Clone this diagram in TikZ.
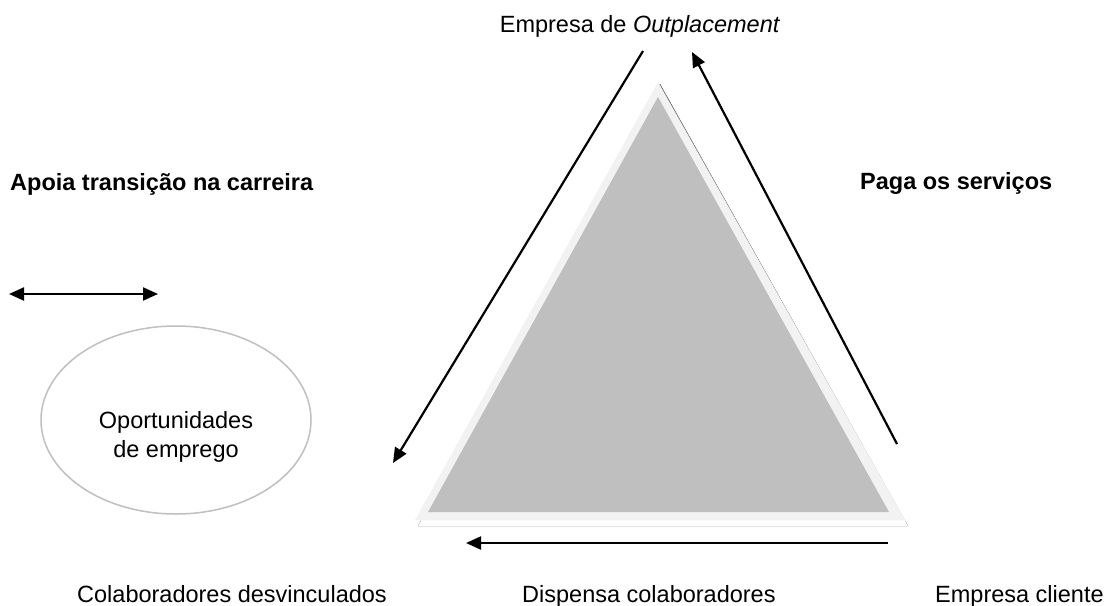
\documentclass[tikz,border=0pt]{standalone}
\usepackage{fontspec}
\setmainfont{Liberation Sans}
\usetikzlibrary{arrows.meta,shapes.geometric}
\definecolor{rim}{HTML}{F2F2F2}
\definecolor{face}{HTML}{BFBFBF}
\definecolor{shade}{HTML}{8496B0}

\begin{document}
\begin{tikzpicture}[x=1pt, y=-1pt, every node/.style = {inner sep=0pt, font=\fontsize{23.5}{29}\selectfont}, flow/.style = {draw, line width=2.2pt, -{Triangle[length=15pt,width=13pt]}}, boldtext/.style = {font=\fontsize{23.5}{29}\selectfont\bfseries}]
            \useasboundingbox (0,0) rectangle (1107,605);
            % triangle
            \fill[shade] (660,84) -- (908,526) -- (418,526) -- cycle;
            \fill[rim] (658,82) -- (905,520) -- (415,520) -- cycle;
            \fill[face] (658,97) -- (889,512) -- (428,512) -- cycle;
            % texts
            \node[anchor=base] (top) at (640,32) {Empresa de \textit{Outplacement}};
            \node[boldtext, anchor=base west] (apoia) at (10,190) {Apoia transição na carreira};
            \node[boldtext, anchor=base west] (paga) at (860,189) {Paga os serviços};
            \node[anchor=base west] (coll) at (77,602) {Colaboradores desvinculados};
            \node[anchor=base west] (disp) at (522,602) {Dispensa colaboradores};
            \node[anchor=base west] (client) at (935,602) {Empresa cliente};
            \node[ellipse, draw=face, line width=1.5pt, minimum width=270pt, minimum height=188pt] (opp) at (176,420) {};
            \node[align=center, anchor=base] (opptext) at (176,457) {Oportunidades\\de emprego};
            % arrows
            \coordinate (a1) at (643,51);
            \coordinate (a2) at (393,463);
            \coordinate (b1) at (897,444);
            \coordinate (b2) at (692,52);
            \coordinate (c1) at (888,543);
            \coordinate (c2) at (466,543);
            \coordinate (d1) at (9,294);
            \coordinate (d2) at (158,294);
            \draw[flow] (a1) -- (a2);
            \draw[flow] (b1) -- (b2);
            \draw[flow] (c1) -- (c2);
            \draw[flow, {Triangle[length=15pt,width=13pt]}-{Triangle[length=15pt,width=13pt]}] (d1) -- (d2);
        \end{tikzpicture}
\end{document}
